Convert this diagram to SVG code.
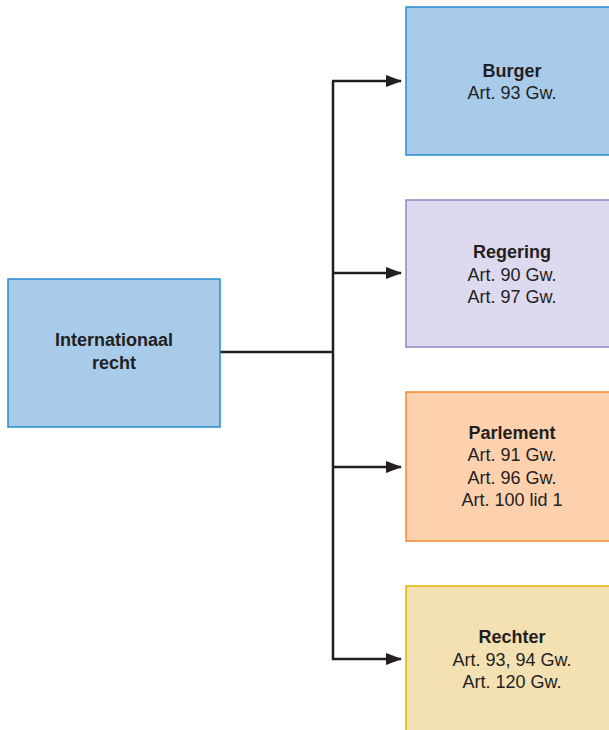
<svg xmlns="http://www.w3.org/2000/svg" width="609" height="730" viewBox="0 0 609 730">
<style>
text{font-family:"Liberation Sans",Arial,sans-serif;font-size:18px;fill:#231f20;text-anchor:middle}
.t{font-weight:bold}
.c{fill:none;stroke:#231f20;stroke-width:2.5}
</style>
<defs>
<marker id="ah" viewBox="0 0 16 12" refX="15" refY="6" markerWidth="16" markerHeight="12" markerUnits="userSpaceOnUse" orient="auto">
<path d="M0,0 L16,6 L0,12 Z" fill="#231f20"/>
</marker>
</defs>
<g id="connectors">
<path class="c" d="M220,352 H333"/>
<path class="c" d="M333,81 V660"/>
<path class="c" d="M332,81 H401" marker-end="url(#ah)"/>
<path class="c" d="M333,273 H401" marker-end="url(#ah)"/>
<path class="c" d="M333,467 H401" marker-end="url(#ah)"/>
<path class="c" d="M332,659 H401" marker-end="url(#ah)"/>
</g>
<g id="internationaal">
<rect x="8" y="279" width="212" height="148" fill="#a9cbea" stroke="#2a8bd0" stroke-width="1.5"/>
<text class="t" x="114" y="346">Internationaal</text>
<text class="t" x="114" y="369">recht</text>
</g>
<g id="burger">
<rect x="406" y="7" width="215" height="148" fill="#a9cbea" stroke="#2a8bd0" stroke-width="1.5"/>
<text class="t" x="512" y="77">Burger</text>
<text x="512" y="99">Art. 93 Gw.</text>
</g>
<g id="regering">
<rect x="406" y="200" width="215" height="147" fill="#ddd9ee" stroke="#8e87c6" stroke-width="1.5"/>
<text class="t" x="512" y="258">Regering</text>
<text x="512" y="281">Art. 90 Gw.</text>
<text x="512" y="303">Art. 97 Gw.</text>
</g>
<g id="parlement">
<rect x="406" y="392" width="215" height="149" fill="#fdd0ae" stroke="#f5892f" stroke-width="1.5"/>
<text class="t" x="512" y="439">Parlement</text>
<text x="512" y="461">Art. 91 Gw.</text>
<text x="512" y="484">Art. 96 Gw.</text>
<text x="512" y="506">Art. 100 lid 1</text>
</g>
<g id="rechter">
<rect x="406" y="586" width="215" height="160" fill="#f3e0b3" stroke="#e6b500" stroke-width="1.5"/>
<text class="t" x="512" y="643">Rechter</text>
<text x="512" y="666">Art. 93, 94 Gw.</text>
<text x="512" y="688">Art. 120 Gw.</text>
</g>
</svg>
